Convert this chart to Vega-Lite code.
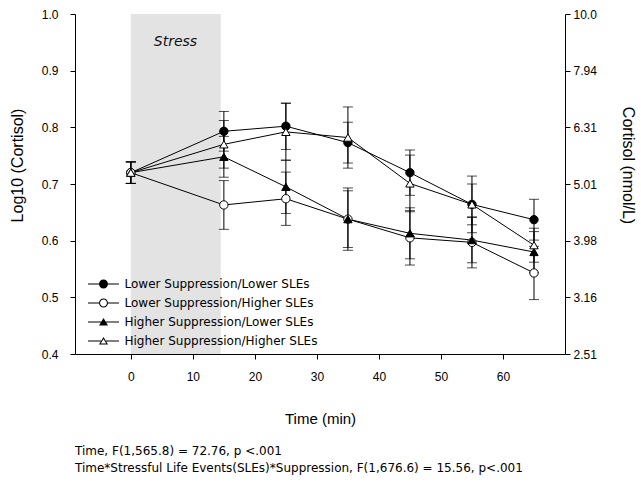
{
  "$schema": "https://vega.github.io/schema/vega-lite/v6.json",
  "width": 490,
  "height": 340,
  "autosize": "none",
  "padding": {"left": 75, "top": 14, "right": 76, "bottom": 133},
  "background": "white",
  "title": {
    "text": ["Time, F(1,565.8) = 72.76, p <.001", "Time*Stressful Life Events(SLEs)*Suppression, F(1,676.6) = 15.56, p<.001"],
    "orient": "bottom",
    "anchor": "start",
    "frame": "group",
    "font": "DejaVu Sans",
    "fontSize": 12,
    "fontWeight": "normal",
    "color": "black",
    "lineHeight": 17,
    "offset": 20
  },
  "datasets": {
    "cortisol": [
      {"group": "Lower Suppression/Lower SLEs", "t": 0, "mean": 0.720, "se": 0.019},
      {"group": "Lower Suppression/Lower SLEs", "t": 15, "mean": 0.793, "se": 0.035},
      {"group": "Lower Suppression/Lower SLEs", "t": 25, "mean": 0.802, "se": 0.041},
      {"group": "Lower Suppression/Lower SLEs", "t": 35, "mean": 0.773, "se": 0.036},
      {"group": "Lower Suppression/Lower SLEs", "t": 45, "mean": 0.720, "se": 0.040},
      {"group": "Lower Suppression/Lower SLEs", "t": 55, "mean": 0.664, "se": 0.036},
      {"group": "Lower Suppression/Lower SLEs", "t": 65, "mean": 0.637, "se": 0.036},
      {"group": "Lower Suppression/Higher SLEs", "t": 0, "mean": 0.720, "se": 0.019},
      {"group": "Lower Suppression/Higher SLEs", "t": 15, "mean": 0.663, "se": 0.043},
      {"group": "Lower Suppression/Higher SLEs", "t": 25, "mean": 0.674, "se": 0.047},
      {"group": "Lower Suppression/Higher SLEs", "t": 35, "mean": 0.638, "se": 0.050},
      {"group": "Lower Suppression/Higher SLEs", "t": 45, "mean": 0.605, "se": 0.048},
      {"group": "Lower Suppression/Higher SLEs", "t": 55, "mean": 0.597, "se": 0.045},
      {"group": "Lower Suppression/Higher SLEs", "t": 65, "mean": 0.543, "se": 0.047},
      {"group": "Higher Suppression/Lower SLEs", "t": 0, "mean": 0.720, "se": 0.019},
      {"group": "Higher Suppression/Lower SLEs", "t": 15, "mean": 0.748, "se": 0.036},
      {"group": "Higher Suppression/Lower SLEs", "t": 25, "mean": 0.695, "se": 0.047},
      {"group": "Higher Suppression/Lower SLEs", "t": 35, "mean": 0.638, "se": 0.055},
      {"group": "Higher Suppression/Lower SLEs", "t": 45, "mean": 0.613, "se": 0.045},
      {"group": "Higher Suppression/Lower SLEs", "t": 55, "mean": 0.601, "se": 0.040},
      {"group": "Higher Suppression/Lower SLEs", "t": 65, "mean": 0.580, "se": 0.036},
      {"group": "Higher Suppression/Higher SLEs", "t": 0, "mean": 0.720, "se": 0.019},
      {"group": "Higher Suppression/Higher SLEs", "t": 15, "mean": 0.770, "se": 0.042},
      {"group": "Higher Suppression/Higher SLEs", "t": 25, "mean": 0.792, "se": 0.050},
      {"group": "Higher Suppression/Higher SLEs", "t": 35, "mean": 0.782, "se": 0.054},
      {"group": "Higher Suppression/Higher SLEs", "t": 45, "mean": 0.701, "se": 0.050},
      {"group": "Higher Suppression/Higher SLEs", "t": 55, "mean": 0.664, "se": 0.050},
      {"group": "Higher Suppression/Higher SLEs", "t": 65, "mean": 0.592, "se": 0.030}
    ],
    "stress": [{"x": 0, "x2": 14.5, "label": "Stress", "lx": 7.2, "ly": 0.951}],
    "right": [{"c": 2.511886}, {"c": 10}]
  },
  "layer": [
    {
      "layer": [
        {
          "data": {"name": "stress"},
          "mark": {"type": "rect", "color": "#e3e3e3"},
          "encoding": {
            "x": {"field": "x", "type": "quantitative", "title": "Time (min)", "scale": {"domain": [-9, 70], "nice": false, "zero": false}},
            "x2": {"field": "x2"},
            "y": {"datum": 0.4, "type": "quantitative", "title": "Log10 (Cortisol)"},
            "y2": {"datum": 1.0}
          }
        },
        {
          "data": {"name": "stress"},
          "mark": {"type": "text", "font": "DejaVu Sans", "fontStyle": "italic", "fontSize": 14, "color": "#111"},
          "encoding": {
            "x": {"field": "lx", "type": "quantitative", "title": "Time (min)"},
            "y": {"field": "ly", "type": "quantitative", "title": "Log10 (Cortisol)"},
            "text": {"field": "label"}
          }
        },
        {
          "data": {"name": "cortisol"},
          "mark": {"type": "line", "color": "black", "strokeWidth": 1},
          "encoding": {
            "x": {"field": "t", "type": "quantitative", "title": "Time (min)",
              "axis": {"values": [0, 10, 20, 30, 40, 50, 60], "format": "d", "labelPadding": 12, "titleFontSize": 15, "titleFontWeight": "normal", "titleY": 64, "titleBaseline": "middle"}},
            "y": {"field": "mean", "type": "quantitative", "title": "Log10 (Cortisol)",
              "scale": {"domain": [0.4, 1.0], "nice": false, "zero": false},
              "axis": {"values": [0.4, 0.5, 0.6, 0.7, 0.8, 0.9, 1.0], "format": ".1f", "labelPadding": 12, "titleFontWeight": "normal", "titleX": -58, "titleY": 151, "titleBaseline": "middle"}},
            "detail": {"field": "group"},
            "order": {"field": "t"}
          }
        },
        {
          "data": {"name": "cortisol"},
          "mark": {"type": "errorbar", "color": "black", "thickness": 1, "ticks": {"size": 10, "color": "black"}},
          "encoding": {
            "x": {"field": "t", "type": "quantitative", "title": "Time (min)"},
            "y": {"field": "mean", "type": "quantitative", "title": "Log10 (Cortisol)"},
            "yError": {"field": "se"}
          }
        },
        {
          "data": {"name": "cortisol"},
          "mark": {"type": "point", "filled": true, "stroke": "black", "strokeWidth": 1, "size": 70, "opacity": 1},
          "encoding": {
            "x": {"field": "t", "type": "quantitative", "title": "Time (min)"},
            "y": {"field": "mean", "type": "quantitative", "title": "Log10 (Cortisol)"},
            "shape": {"field": "group", "type": "nominal", "legend": null,
              "scale": {"domain": ["Lower Suppression/Lower SLEs", "Lower Suppression/Higher SLEs", "Higher Suppression/Lower SLEs", "Higher Suppression/Higher SLEs"],
                "range": ["circle", "circle", "triangle-up", "triangle-up"]}},
            "fill": {"field": "group", "type": "nominal", "legend": null,
              "scale": {"domain": ["Lower Suppression/Lower SLEs", "Lower Suppression/Higher SLEs", "Higher Suppression/Lower SLEs", "Higher Suppression/Higher SLEs"],
                "range": ["black", "white", "black", "white"]}}
          }
        },
        {
          "data": {"name": "cortisol"},
          "mark": {"type": "point", "filled": true, "color": "black", "opacity": 0},
          "encoding": {
            "x": {"field": "t", "type": "quantitative", "title": "Time (min)"},
            "y": {"field": "mean", "type": "quantitative", "title": "Log10 (Cortisol)"},
            "shape": {"field": "group", "type": "nominal",
              "scale": {"domain": ["Lower Suppression/Lower SLEs", "Lower Suppression/Higher SLEs", "Higher Suppression/Lower SLEs", "Higher Suppression/Higher SLEs"],
                "range": [
                  "M -3.44 -0.11 L 3.44 -0.11 L 3.44 0.11 L -3.44 0.11 Z M -1 0 C -1 -0.552 -0.552 -1 0 -1 C 0.552 -1 1 -0.552 1 0 C 1 0.552 0.552 1 0 1 C -0.552 1 -1 0.552 -1 0 Z",
                  "M -3.44 -0.11 L -1 -0.11 L -1 0.11 L -3.44 0.11 Z M 1 -0.11 L 3.44 -0.11 L 3.44 0.11 L 1 0.11 Z M -1 0 C -1 -0.552 -0.552 -1 0 -1 C 0.552 -1 1 -0.552 1 0 C 1 0.552 0.552 1 0 1 C -0.552 1 -1 0.552 -1 0 Z M -0.76 0 C -0.76 0.42 -0.42 0.76 0 0.76 C 0.42 0.76 0.76 0.42 0.76 0 C 0.76 -0.42 0.42 -0.76 0 -0.76 C -0.42 -0.76 -0.76 -0.42 -0.76 0 Z",
                  "M -3.44 -0.11 L 3.44 -0.11 L 3.44 0.11 L -3.44 0.11 Z M 0 -0.9 L 1 0.8 L -1 0.8 Z",
                  "M -3.44 -0.11 L -0.53 -0.11 L -0.53 0.11 L -3.44 0.11 Z M 0.53 -0.11 L 3.44 -0.11 L 3.44 0.11 L 0.53 0.11 Z M 0 -0.9 L 1 0.8 L -1 0.8 Z M 0 -0.466 L -0.615 0.58 L 0.615 0.58 Z"
                ]},
              "legend": {
                "title": null,
                "orient": "none",
                "legendX": 22.5,
                "legendY": 264,
                "padding": 0,
                "labelFont": "DejaVu Sans",
                "labelFontSize": 12,
                "labelColor": "black",
                "labelLimit": 0,
                "labelOffset": 15,
                "rowPadding": 7,
                "symbolSize": 81,
                "symbolOpacity": 1,
                "symbolFillColor": "black",
                "symbolStrokeWidth": 0,
                "encode": {"symbols": {"update": {"opacity": {"value": 1}, "fill": {"value": "black"}, "strokeWidth": {"value": 0}}}}
              }}
          }
        }
      ],
      "resolve": {"scale": {"shape": "independent", "fill": "independent"}}
    },
    {
      "data": {"name": "right"},
      "mark": {"type": "point", "opacity": 0},
      "encoding": {
        "y": {"field": "c", "type": "quantitative", "title": "Cortisol (nmol/L)",
          "scale": {"type": "log", "domain": [2.511886, 10], "nice": false},
          "axis": {"orient": "right", "values": [2.511886, 3.162278, 3.981072, 5.011872, 6.309573, 7.943282, 10], "format": ".3r", "labelPadding": 3, "titleFontWeight": "normal", "titleAngle": 90, "titleX": 62, "titleY": 151, "titleBaseline": "middle"}}
      }
    }
  ],
  "resolve": {"scale": {"y": "independent"}, "axis": {"y": "independent"}},
  "config": {
    "view": {"stroke": null},
    "axis": {
      "grid": false,
      "domainColor": "black",
      "tickColor": "black",
      "labelColor": "black",
      "titleColor": "black",
      "labelFont": "Liberation Sans",
      "titleFont": "Liberation Sans",
      "labelFontSize": 12,
      "titleFontSize": 16,
      "titleFontWeight": "normal",
      "tickSize": 5
    },
    "axisX": {"titleFontWeight": "normal"},
    "axisY": {"titleFontWeight": "normal"}
  }
}
